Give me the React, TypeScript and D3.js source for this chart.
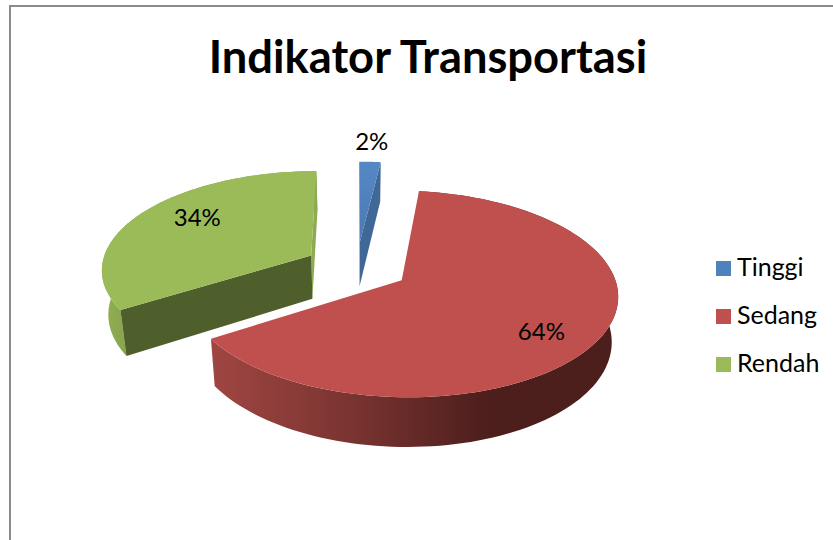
import React from "react";
import * as d3 from "d3";

const title = "Indikator Transportasi";
const categories = ["Tinggi", "Sedang", "Rendah"];
const shares = [1.9, 64.1, 34];
const topColors = ["#4f81bd", "#c0504d", "#9bbb59"];

const W = 833, H = 540;
const CX = 356.5, CY = 267, RX = 210, RY = 98, PERSP = 0.13, EXPLODE = 0.25;
const DEPTH = 44, SHRINK = 0.975, AXIS_X = 360;

type P = [number, number];
const persp = (v: number) => 1 / (1 - PERSP * v);
const project = (u: number, v: number): P => {
  const p = persp(v);
  return [CX + RX * u * p, CY + RY * v * p];
};
const projectBottom = (u: number, v: number): P => {
  const [x, y] = project(u, v);
  return [AXIS_X + (x - AXIS_X) * SHRINK, y + DEPTH * (1 + (persp(v) - 1) * 0.75)];
};

const pie = d3.pie<number>().sort(null).value((d) => d);
const arcs = pie(shares);
const line = d3.line();
const closed = (pts: P[]) => line(pts) + "Z";

function slicePts(a: d3.PieArcDatum<number>) {
  const m = (a.startAngle + a.endAngle) / 2;
  const ax = EXPLODE * Math.sin(m), ay = -EXPLODE * Math.cos(m);
  const at = (r: number, th: number): [number, number] => [ax + r * Math.sin(th), ay - r * Math.cos(th)];
  const thetas = d3.range(0, 121).map((i) => a.startAngle + ((a.endAngle - a.startAngle) * i) / 120);
  return { apex: [ax, ay] as [number, number], at, thetas, mid: m };
}

const labelLayout = [
  { r: 1.2, dx: 0, dy: -7 },
  { r: 0.75, dx: -6, dy: 7 },
  { r: 0.75, dx: 14, dy: -6 },
];

const FONT = "Lato, 'Noto Sans', sans-serif";

export default function App() {
  const [blue, red, green] = arcs.map(slicePts);

  const topPath = (s: ReturnType<typeof slicePts>) =>
    closed([project(...s.apex), ...s.thetas.map((t) => project(...s.at(1, t)))]);
  const wallPath = (s: ReturnType<typeof slicePts>, from: number, to: number) => {
    const ts = s.thetas.filter((t) => t >= from && t <= to);
    return closed([
      ...ts.map((t) => project(...s.at(1, t))),
      ...ts.slice().reverse().map((t) => projectBottom(...s.at(1, t))),
    ]);
  };
  const radial = (s: ReturnType<typeof slicePts>, th: number) => {
    const e = s.at(1, th);
    return closed([project(...s.apex), project(...e), projectBottom(...e), projectBottom(...s.apex)]);
  };

  const sliceList = [blue, red, green];

  return (
    <svg width={W} height={H} style={{ position: "absolute", left: 0, top: 0, display: "block", background: "#fff" }}>
      <defs>
        <linearGradient id="redWall" gradientUnits="userSpaceOnUse" x1={210} x2={490} y1={0} y2={0}>
          <stop offset="0" stopColor="#a04642" />
          <stop offset="0.5" stopColor="#7a3431" />
          <stop offset="1" stopColor="#4c1e1c" />
        </linearGradient>
        <linearGradient id="greenWall" gradientUnits="userSpaceOnUse" x1={100} x2={130} y1={0} y2={0}>
          <stop offset="0" stopColor="#92b153" />
          <stop offset="1" stopColor="#86a24c" />
        </linearGradient>
        <linearGradient id="blueTop" gradientUnits="userSpaceOnUse" x1={0} x2={0} y1={160} y2={245}>
          <stop offset="0" stopColor="#5588c6" />
          <stop offset="1" stopColor="#4a79b2" />
        </linearGradient>
      </defs>

      <path d={`M10,540V6H833`} fill="none" stroke="#8c8c8c" strokeWidth={2} />

      <text x={428} y={73} textAnchor="middle" fontFamily={FONT} fontWeight={700} fontSize={45.3} fill="#000">
        {title}
      </text>

      {/* green slice */}
      <path d={wallPath(green, green.thetas[0], green.thetas[120])} fill="url(#greenWall)" />
      <path d={radial(green, green.thetas[120])} fill="#8cab52" />
      <path d={radial(green, green.thetas[0])} fill="#4f5f2c" />
      <path d={topPath(green)} fill={topColors[2]} />

      {/* blue slice */}
      <path d={radial(blue, blue.thetas[120])} fill="#3f6797" />
      <path d={topPath(blue)} fill="url(#blueTop)" />

      {/* red slice */}
      <path d={wallPath(red, red.thetas[0], red.thetas[120])} fill="url(#redWall)" />
      <path d={topPath(red)} fill={topColors[1]} />

      {sliceList.map((s, i) => {
        const [u, v] = s.at(labelLayout[i].r, s.mid);
        const [x, y] = project(u, v);
        return (
          <text
            key={i}
            x={x + labelLayout[i].dx}
            y={y + labelLayout[i].dy}
            textAnchor="middle"
            dominantBaseline="central"
            fontFamily={FONT}
            fontSize={24}
            fill="#000"
          >
            {d3.format(".0f")(shares[i])}%
          </text>
        );
      })}

      {categories.map((c, i) => (
        <g key={c} transform={`translate(716,${261 + i * 48})`}>
          <rect width={15} height={15} fill={topColors[i]} />
          <text x={21} y={15} fontFamily={FONT} fontSize={25} fill="#000">
            {c}
          </text>
        </g>
      ))}
    </svg>
  );
}
